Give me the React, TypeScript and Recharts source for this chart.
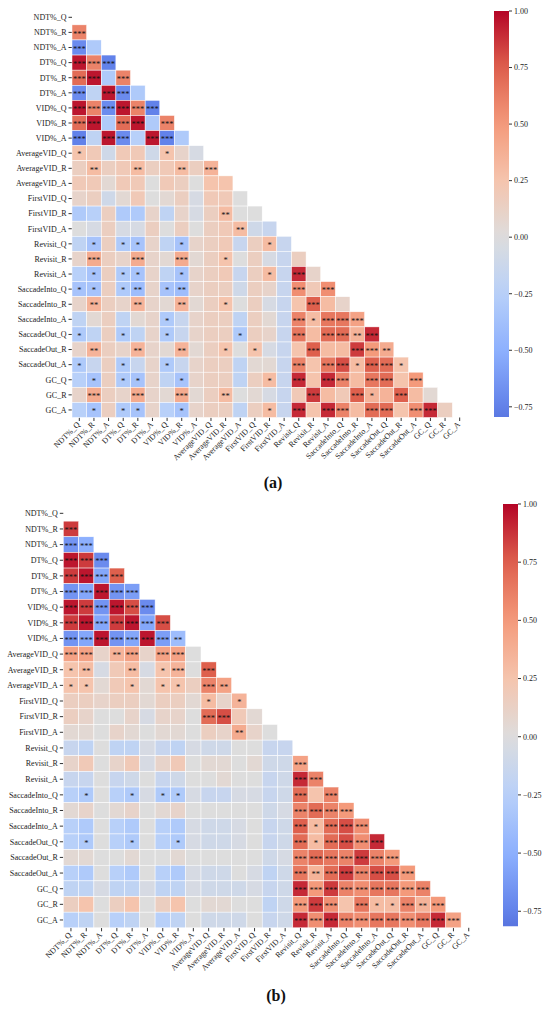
import React from "react";
import { ScatterChart, Scatter, XAxis, YAxis, BarChart, Bar } from "recharts";

// --- LABELS ---
const LABELS = [
  "NDT%_Q", "NDT%_R", "NDT%_A", "DT%_Q", "DT%_R", "DT%_A", "VID%_Q", "VID%_R", "VID%_A",
  "AverageVID_Q", "AverageVID_R", "AverageVID_A", "FirstVID_Q", "FirstVID_R", "FirstVID_A",
  "Revisit_Q", "Revisit_R", "Revisit_A", "SaccadeInto_Q", "SaccadeInto_R", "SaccadeInto_A",
  "SaccadeOut_Q", "SaccadeOut_R", "SaccadeOut_A", "GC_Q", "GC_R", "GC_A",
];
const IDX = LABELS.map((_, i) => i);
const CB_TICKS = [-0.75, -0.5, -0.25, 0, 0.25, 0.5, 0.75, 1];

// --- PANEL (a): lower triangle, row i holds columns 0..i-1 ---
const CORR_A = [
  [],
  [0.6],
  [-0.7, -0.3],
  [0.95, 0.6, -0.75],
  [0.7, 0.95, -0.3, 0.6],
  [-0.7, -0.2, 0.95, -0.7, -0.3],
  [0.95, 0.6, -0.7, 0.95, 0.6, -0.75],
  [0.7, 0.95, -0.3, 0.7, 0.95, -0.3, 0.6],
  [-0.75, -0.2, 0.95, -0.7, -0.25, 0.95, -0.75, -0.3],
  [0.25, 0.2, -0.1, 0.2, 0.2, -0.1, 0.25, 0.1, -0.05],
  [0.15, 0.3, 0.15, 0.2, 0.3, 0.15, 0.2, 0.3, 0.15, 0.35],
  [0.2, 0.2, 0.05, 0.2, 0.2, 0.0, 0.2, 0.15, 0.0, 0.25, 0.25],
  [0.1, 0.15, -0.1, 0.05, 0.2, 0.0, 0.05, 0.15, -0.05, 0.2, 0.2, 0.0],
  [-0.3, -0.25, 0.15, -0.3, -0.3, 0.1, -0.2, 0.1, -0.05, 0.15, 0.3, 0.0, 0.0],
  [0.0, -0.05, 0.15, -0.05, -0.05, 0.15, 0.0, 0.15, 0.0, 0.15, 0.2, 0.3, -0.1, -0.15],
  [-0.2, -0.35, 0.15, -0.3, -0.35, 0.1, -0.2, -0.35, 0.1, 0.15, 0.2, -0.15, 0.15, 0.3, -0.15],
  [0.1, 0.4, 0.15, 0.1, 0.4, 0.1, 0.05, 0.4, 0.05, 0.15, 0.25, 0.0, 0.15, -0.05, -0.15, 0.15],
  [-0.25, -0.35, 0.15, -0.3, -0.35, 0.1, -0.2, -0.35, 0.1, 0.15, 0.2, -0.15, 0.15, 0.3, -0.15, 0.9, 0.1],
  [-0.35, -0.35, 0.15, -0.3, -0.4, 0.1, -0.35, -0.4, 0.1, 0.15, 0.15, -0.1, 0.15, 0.1, -0.15, 0.55, 0.2, 0.55],
  [0.1, 0.35, 0.15, 0.1, 0.35, 0.1, 0.05, 0.35, 0.05, 0.15, 0.25, 0.0, 0.15, -0.05, -0.15, 0.25, 0.75, 0.3, 0.1],
  [-0.2, 0.05, 0.15, -0.2, 0.05, 0.1, -0.3, -0.15, 0.1, 0.15, 0.15, -0.2, 0.15, 0.05, -0.15, 0.6, 0.3, 0.65, 0.65, 0.45],
  [-0.3, -0.2, 0.15, -0.3, -0.2, 0.1, -0.3, -0.15, 0.1, 0.15, 0.15, -0.3, 0.15, 0.1, -0.15, 0.65, 0.3, 0.7, 0.7, 0.35, 0.9],
  [0.1, 0.35, 0.15, 0.1, 0.35, 0.1, 0.05, 0.35, 0.05, 0.15, 0.25, 0.0, 0.25, -0.05, -0.15, 0.25, 0.75, 0.3, 0.3, 0.85, 0.5, 0.4],
  [-0.3, -0.15, 0.15, -0.3, -0.15, 0.1, -0.3, -0.15, 0.1, 0.15, 0.15, -0.2, 0.05, 0.05, -0.15, 0.6, 0.25, 0.65, 0.8, 0.3, 0.75, 0.7, 0.25],
  [-0.25, -0.35, 0.15, -0.3, -0.35, 0.1, -0.2, -0.35, 0.1, 0.15, 0.15, -0.2, 0.15, 0.3, -0.15, 0.9, 0.25, 0.9, 0.6, 0.3, 0.65, 0.7, 0.25, 0.5],
  [0.1, 0.4, 0.15, 0.1, 0.4, 0.1, 0.05, 0.4, 0.05, 0.15, 0.3, 0.0, 0.05, -0.05, -0.15, 0.2, 0.85, 0.3, 0.2, 0.75, 0.35, 0.35, 0.75, 0.3, 0.05],
  [-0.25, -0.35, 0.15, -0.3, -0.35, 0.1, -0.25, -0.35, 0.1, 0.15, 0.15, -0.2, 0.15, 0.3, -0.15, 0.9, 0.25, 0.9, 0.6, 0.3, 0.7, 0.7, 0.25, 0.55, 0.9, 0.15],
];
// number of stars per cell, one digit per column
const SIG_A = [
  "", "3", "30", "333", "3303", "30330", "333333", "3303303", "30330330",
  "100000100", "0200200203", "00000000000", "000000000000", "0000000000200",
  "00000000000200", "010110010000010", "0300300300100000", "01011001000001030",
  "110120120000000303", "0200200200100000300", "00000010000000031333",
  "100100100001000303323", "0200200200101000300332", "10010010000000030331331",
  "010110010000010303303303", "0300300300200000300310300", "01011001000001030330330330",
];

// --- PANEL (b) ---
const CORR_B = [
  [],
  [0.85],
  [-0.65, -0.5],
  [0.95, 0.85, -0.7],
  [0.85, 0.95, -0.55, 0.75],
  [-0.65, -0.55, 0.95, -0.65, -0.6],
  [0.95, 0.85, -0.65, 0.95, 0.8, -0.7],
  [0.85, 0.95, -0.55, 0.85, 0.95, -0.55, 0.8],
  [-0.65, -0.55, 0.95, -0.65, -0.55, 0.95, -0.6, -0.4],
  [0.45, 0.45, 0.1, 0.35, 0.45, 0.1, 0.45, 0.45, 0.0],
  [0.25, 0.3, -0.05, 0.2, 0.3, -0.05, 0.25, 0.35, 0.0, 0.75],
  [0.25, 0.25, 0.05, 0.2, 0.25, 0.05, 0.25, 0.25, 0.15, 0.6, 0.45],
  [0.15, 0.15, 0.1, 0.15, 0.15, 0.05, 0.15, 0.15, 0.05, 0.3, 0.1, 0.35],
  [0.15, 0.1, 0.0, 0.0, 0.1, -0.05, 0.1, 0.1, 0.0, 0.7, 0.8, 0.2, 0.05],
  [0.05, 0.05, 0.0, 0.1, 0.05, 0.0, 0.05, 0.05, 0.0, 0.15, 0.1, 0.4, 0.1, 0.0],
  [-0.15, -0.2, 0.0, -0.2, -0.2, -0.05, -0.15, -0.2, -0.05, -0.1, -0.1, 0.0, 0.0, -0.15, -0.15],
  [0.1, 0.2, 0.0, 0.1, 0.2, -0.05, 0.1, 0.2, 0.0, 0.05, 0.05, 0.0, 0.05, -0.1, -0.1, 0.45],
  [-0.15, -0.15, 0.0, -0.15, -0.1, 0.0, -0.15, -0.1, 0.0, 0.0, 0.05, 0.0, 0.0, -0.15, -0.1, 0.9, 0.6],
  [-0.25, -0.3, 0.0, -0.25, -0.3, -0.05, -0.3, -0.3, -0.05, -0.15, -0.15, -0.05, -0.05, -0.15, -0.1, 0.7, 0.25, 0.6],
  [0.05, 0.1, 0.0, 0.05, 0.1, 0.0, 0.05, 0.1, 0.0, 0.0, 0.0, 0.0, 0.0, -0.1, -0.05, 0.6, 0.7, 0.6, 0.5],
  [-0.25, -0.3, 0.0, -0.25, -0.3, 0.0, -0.25, -0.3, -0.05, -0.1, -0.1, -0.05, 0.0, -0.15, -0.1, 0.75, 0.3, 0.7, 0.8, 0.55],
  [-0.25, -0.3, 0.0, -0.25, -0.3, 0.0, -0.25, -0.3, -0.05, -0.1, -0.1, -0.05, 0.0, -0.15, -0.1, 0.7, 0.3, 0.7, 0.8, 0.55, 0.9],
  [0.05, 0.05, 0.0, 0.0, 0.05, 0.0, 0.0, 0.05, 0.0, 0.0, 0.0, 0.0, 0.0, -0.1, -0.05, 0.6, 0.7, 0.65, 0.6, 0.85, 0.6, 0.5],
  [-0.25, -0.3, 0.0, -0.25, -0.3, 0.0, -0.25, -0.3, -0.05, -0.1, -0.1, 0.0, -0.05, -0.2, -0.1, 0.65, 0.35, 0.7, 0.85, 0.6, 0.8, 0.8, 0.5],
  [-0.2, -0.2, -0.05, -0.2, -0.2, -0.05, -0.2, -0.2, -0.05, -0.1, -0.1, -0.1, -0.05, -0.15, -0.1, 0.9, 0.5, 0.85, 0.6, 0.55, 0.65, 0.65, 0.5, 0.6],
  [0.15, 0.25, 0.0, 0.15, 0.25, 0.0, 0.15, 0.25, 0.0, 0.05, 0.05, 0.0, 0.0, -0.2, -0.1, 0.5, 0.85, 0.55, 0.25, 0.65, 0.3, 0.3, 0.6, 0.35, 0.5],
  [-0.25, -0.2, 0.0, -0.25, -0.2, 0.0, -0.25, -0.2, 0.0, -0.1, -0.1, -0.1, 0.0, -0.15, -0.1, 0.9, 0.55, 0.9, 0.6, 0.55, 0.65, 0.65, 0.55, 0.65, 0.9, 0.45],
];
const SIG_B = [
  "", "3", "33", "333", "3333", "33333", "333333", "3333333", "33333332",
  "330230330", "1200201303", "11001011032", "000000000101", "0000000003300",
  "00000000000200", "000000000000000", "0000000000000003", "00000000000000033",
  "010010110000000303", "0000000000000003333", "00000000000000031333",
  "010010010000000313333", "0000000000000003333333", "00000000000000032333333",
  "000000000000000333333333", "0000000000000003330311323", "00000000000000033333333333",
];

const FONT = '"Times New Roman", "Liberation Serif", "DejaVu Serif", serif';

// matplotlib coolwarm, sampled
const COOLWARM = [
  [59, 76, 192], [98, 130, 234], [141, 176, 254], [184, 208, 249], [221, 221, 221],
  [245, 196, 173], [244, 154, 123], [222, 96, 77], [180, 4, 38],
];
function cmap(v: number) {
  const t = Math.max(0, Math.min(1, (v + 1) / 2)); // centred at 0
  const p = t * 8;
  const i = Math.min(7, Math.floor(p));
  const f = p - i;
  const a = COOLWARM[i], b = COOLWARM[i + 1];
  const c = a.map((x, k) => Math.round(x + (b[k] - x) * f));
  return `rgb(${c[0]},${c[1]},${c[2]})`;
}

function toCells(corr: number[][], sig: string[]) {
  const out: { x: number; y: number; v: number; s: number }[] = [];
  corr.forEach((row, r) => row.forEach((v, c) => out.push({ x: c, y: r, v, s: Number(sig[r][c] || 0) })));
  return out;
}

const XTick = (props: any) => {
  const { x, y, payload } = props;
  return (
    <g transform={`translate(${x + 1},${y + 3})`}>
      <text transform="rotate(-45)" textAnchor="end" fontSize={8} fill="#222" fontFamily={FONT}>
        {LABELS[payload.value]}
      </text>
    </g>
  );
};

function Heatmap({ cells, top, height, plotLeft, plotRight, plotTop, plotBottom }: any) {
  const cw = (plotRight - plotLeft) / 27;
  const ch = (plotBottom - plotTop) / 27;
  const shape = (p: any) => {
    const { cx, cy, payload } = p;
    return (
      <g>
        <rect x={cx - cw / 2} y={cy - ch / 2} width={cw} height={ch} fill={cmap(payload.v)} stroke="#fff" strokeWidth={0.5} />
        {payload.s > 0 && (
          <text x={cx} y={cy + 4.2} textAnchor="middle" fontSize={8.5} fill="#111" fontFamily={FONT}>
            {"*".repeat(payload.s)}
          </text>
        )}
      </g>
    );
  };
  return (
    <div style={{ position: "absolute", left: 0, top }}>
      <ScatterChart width={550} height={height} margin={{ top: plotTop, right: 550 - plotRight, bottom: 0, left: 0 }}>
        <XAxis
          type="number" dataKey="x" domain={[-0.5, 26.5]} ticks={IDX} interval={0}
          height={height - plotBottom} axisLine={false} tickSize={3.5} tickMargin={1}
          tickLine={{ stroke: "#333" }} tick={(p: any) => <XTick {...p} />}
        />
        <YAxis
          type="number" dataKey="y" domain={[-0.5, 26.5]} reversed ticks={IDX} interval={0}
          width={plotLeft} axisLine={false} tickSize={3.5} tickMargin={2} tickLine={{ stroke: "#333" }}
          tick={{ fontSize: 8, fill: "#222", fontFamily: FONT }} tickFormatter={(v: number) => LABELS[v]}
        />
        <Scatter data={cells} shape={shape} isAnimationActive={false} />
      </ScatterChart>
    </div>
  );
}

const fmt = (v: number) => (v < 0 ? "\u2212" : "") + Math.abs(v).toFixed(2);

function ColorBar({ id, left, top, barH, vmin }: any) {
  const stops = [];
  for (let i = 0; i <= 24; i++) {
    const v = 1 - (i / 24) * (1 - vmin);
    stops.push(<stop key={i} offset={i / 24} stopColor={cmap(v)} />);
  }
  return (
    <div style={{ position: "absolute", left, top: top - 6 }}>
      <BarChart width={55} height={barH + 12} data={[{ n: "cb", r: [vmin, 1] }]} margin={{ top: 6, right: 0, bottom: 6, left: 0 }} barCategoryGap={0}>
        <defs>
          <linearGradient id={id} x1="0" y1="0" x2="0" y2="1">{stops}</linearGradient>
        </defs>
        <XAxis dataKey="n" hide />
        <YAxis
          orientation="right" type="number" domain={[vmin, 1]} ticks={CB_TICKS} width={40} allowDataOverflow
          axisLine={false} tickSize={3} tickMargin={2} tickLine={{ stroke: "#333" }}
          tick={{ fontSize: 8, fill: "#222", fontFamily: FONT, textAnchor: "start" }} tickFormatter={fmt}
        />
        <Bar dataKey="r" fill={`url(#${id})`} isAnimationActive={false} />
      </BarChart>
    </div>
  );
}

const cellsA = toCells(CORR_A, SIG_A);
const cellsB = toCells(CORR_B, SIG_B);

export default function App() {
  const panelLabel = (text: string, x: number, y: number) => (
    <div style={{ position: "absolute", left: x, top: y, transform: "translate(-50%,-50%)", fontFamily: FONT, fontWeight: "bold", fontSize: 16, color: "#111" }}>
      {text}
    </div>
  );
  return (
    <div style={{ position: "absolute", left: 0, top: 0, width: 550, height: 1009, background: "#fff", overflow: "hidden" }}>
      <Heatmap cells={cellsA} top={0} height={500} plotLeft={72} plotRight={467} plotTop={9.75} plotBottom={417.5} />
      <ColorBar id="cbA" left={494} top={11} barH={406} vmin={-0.795} />
      {panelLabel("(a)", 273, 483)}
      <Heatmap cells={cellsB} top={495} height={514} plotLeft={63.3} plotRight={476.4} plotTop={10.5} plotBottom={432.8} />
      <ColorBar id="cbB" left={503} top={504.3} barH={422.4} vmin={-0.815} />
      {panelLabel("(b)", 276, 996)}
    </div>
  );
}
